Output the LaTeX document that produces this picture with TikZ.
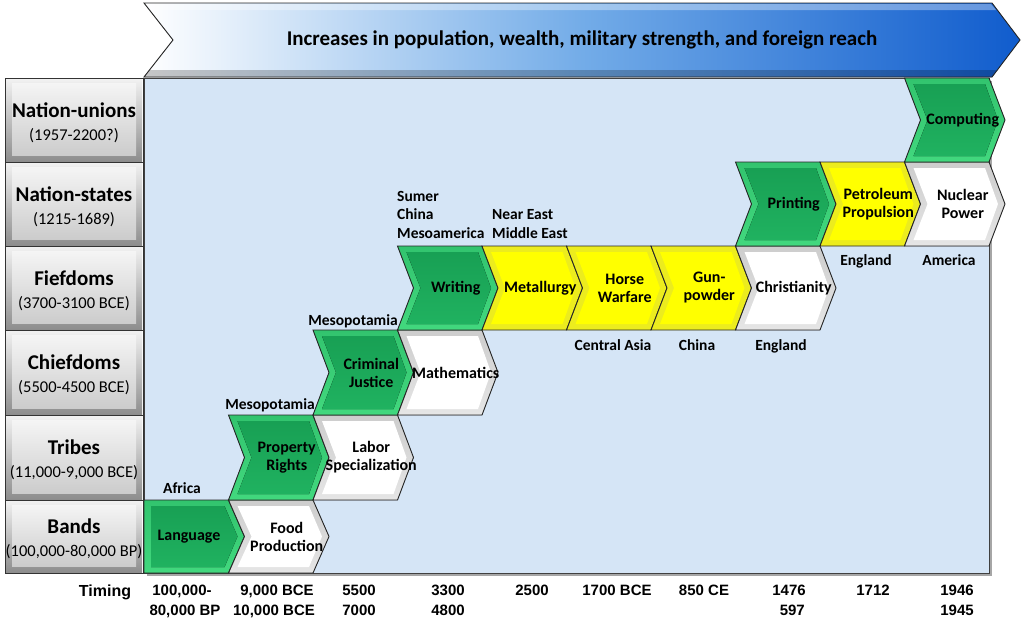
\documentclass[tikz,border=0pt]{standalone}
\usepackage{fontspec}
\setmainfont{Carlito}
\newfontfamily\arialf{Liberation Sans}
\definecolor{bgblue}{RGB}{213,229,246}
\definecolor{gface}{RGB}{24,160,84}
\definecolor{gfaceb}{RGB}{32,178,96}
\definecolor{gtop}{RGB}{50,196,110}
\definecolor{gbot}{RGB}{66,216,126}
\definecolor{yface}{RGB}{255,255,0}
\definecolor{ybev}{RGB}{236,236,30}
\definecolor{wbev}{RGB}{205,205,205}
\definecolor{bannerMid}{RGB}{115,172,232}
\definecolor{bannerR}{RGB}{16,92,205}
\tikzset{
  chevline/.style={draw=black!85, line width=0.9pt, line join=miter},
  greenbev/.style={top color=gtop, bottom color=gbot},
  greenface/.style={top color=gface, bottom color=gfaceb},
  yellowbev/.style={fill=ybev},
  yellowface/.style={fill=yface},
  whitebev/.style={top color=wbev, bottom color=white!90!black},
  whiteface/.style={fill=white},
  chevtext/.style={font=\fontsize{16}{18}\selectfont\bfseries, align=center, inner sep=0pt, text=black},
  loclab/.style={font=\fontsize{15.5}{18.5}\selectfont\bfseries, inner sep=0pt, text=black},
  tlab/.style={font=\arialf\fontsize{15}{18}\selectfont\bfseries, inner sep=0pt, anchor=base},
  rowtitle/.style={font=\fontsize{21}{23}\selectfont\bfseries, inner sep=0pt, anchor=base},
  rowsub/.style={font=\fontsize{16.5}{18}\selectfont, inner sep=0pt, anchor=base},
}
\def\W{84.5}
\def\D{16}
% #1 name, #2 x0, #3 yt, #4 yb, #5 bevel style, #6 face style, #7 text
\newcommand\Chev[7]{%
  \pgfmathsetmacro\xa{#2}%
  \pgfmathsetmacro\xb{#2+\W}%
  \pgfmathsetmacro\xt{#2+\W+\D}%
  \pgfmathsetmacro\xn{#2+\D}%
  \pgfmathsetmacro\ym{(#3+#4)/2}%
  \fill[#5] (\xa,#3) -- (\xb,#3) -- (\xt,\ym) -- (\xb,#4) -- (\xa,#4) -- (\xn,\ym) -- cycle;
  \fill[#6] (\xa+9,#3+6) -- (\xb-4,#3+6) -- (\xt-7,\ym) -- (\xb-4,#4-6) -- (\xa+9,#4-6) -- (\xn+7,\ym) -- cycle;
  \draw[chevline] (\xa,#3) -- (\xb,#3) -- (\xt,\ym) -- (\xb,#4) -- (\xa,#4) -- (\xn,\ym) -- cycle;
  \node[chevtext] (#1) at ({#2+\W/2+\D},\ym) {#7};
}
% #1 name, #2 yt, #3 yb, #4 title, #5 subtitle
\newcommand\RowLab[5]{%
  \pgfmathsetmacro\yc{(#2+#3)/2}%
  \fill[top color=white!95!black, bottom color=black!45] (6,#2) rectangle (142,#3);
  \fill[top color=white!96!black, bottom color=black!20] (12,#2+5) rectangle (136,#3-7);
  \draw[black!80, line width=0.9pt] (5,#2) rectangle (143,#3);
  \node[rowtitle] (#1) at (74,\yc-3) {#4};
  \node[rowsub] (#1s) at (74,\yc+20) {#5};
}
\begin{document}
\begin{tikzpicture}[x=1pt,y=-1pt]
\useasboundingbox (0,0) rectangle (1024,633);
\fill[white] (0,0) rectangle (1024,633);

% banner
\fill[left color=white, right color=bannerR, middle color=bannerMid]
  (144,3) -- (992,3) -- (1020,40) -- (992,77) -- (144,77) -- (173,40) -- cycle;
\fill[white, opacity=0.35] (148,4) -- (991,4) -- (996,10) -- (152,10) -- cycle;
\fill[black, opacity=0.22] (149.5,70) -- (997,70) -- (992,77) -- (144,77) -- cycle;
\draw[black!85, line width=0.9pt]
  (144,3) -- (992,3) -- (1020,40) -- (992,77) -- (144,77) -- (173,40) -- cycle;
\node[font=\fontsize{21}{23}\selectfont\bfseries, inner sep=0pt] (banner) at (582,40)
  {Increases in population, wealth, military strength, and foreign reach};

% panel
\fill[black!35] (147,81) rectangle (992,576);
\fill[bgblue] (144,78) rectangle (989,573);
\draw[black!75, line width=0.8pt] (144,78) rectangle (989,573);

% row labels
\RowLab{nu}{78}{162}{Nation-unions}{(1957-2200?)}
\RowLab{ns}{162}{246}{Nation-states}{(1215-1689)}
\RowLab{fd}{246}{330}{Fiefdoms}{(3700-3100 BCE)}
\RowLab{cd}{330}{415}{Chiefdoms}{(5500-4500 BCE)}
\RowLab{tr}{415}{500}{Tribes}{(11,000-9,000 BCE)}
\RowLab{bd}{500}{573}{Bands}{(100,000-80,000 BP)}

% row 6: Bands
\fill[greenbev] (144,500) -- (228.5,500) -- (244.5,536.5) -- (228.5,573) -- (144,573) -- cycle;
\fill[greenface] (151,506) -- (224.5,506) -- (237.5,536.5) -- (224.5,567) -- (151,567) -- cycle;
\draw[chevline] (144,500) -- (228.5,500) -- (244.5,536.5) -- (228.5,573) -- (144,573) -- cycle;
\node[chevtext] (language) at (189,536.5) {Language};
\Chev{food}{228.5}{500}{573}{whitebev}{whiteface}{Food\\Production}

% row 5: Tribes
\Chev{property}{228.5}{415}{500}{greenbev}{greenface}{Property\\Rights}
\Chev{labor}{313}{415}{500}{whitebev}{whiteface}{Labor\\Specialization}

% row 4: Chiefdoms
\Chev{criminal}{313}{330}{415}{greenbev}{greenface}{Criminal\\Justice}
\Chev{math}{397.5}{330}{415}{whitebev}{whiteface}{Mathematics}

% row 3: Fiefdoms
\Chev{writing}{397.5}{246}{330}{greenbev}{greenface}{Writing}
\Chev{metal}{482}{246}{330}{yellowbev}{yellowface}{Metallurgy}
\Chev{horse}{566.5}{246}{330}{yellowbev}{yellowface}{Horse\\Warfare}
\Chev{gun}{651}{246}{330}{yellowbev}{yellowface}{Gun-\\powder}
\Chev{christ}{735.5}{246}{330}{whitebev}{whiteface}{Christianity}

% row 2: Nation-states
\Chev{printing}{735.5}{162}{246}{greenbev}{greenface}{Printing}
\Chev{petrol}{820}{162}{246}{yellowbev}{yellowface}{Petroleum\\Propulsion}
\Chev{nuclear}{904.5}{162}{246}{whitebev}{whiteface}{Nuclear\\Power}

% row 1: Nation-unions
\Chev{computing}{904.5}{78}{162}{greenbev}{greenface}{Computing}

% location labels
\node[loclab, anchor=base] (africa) at (182,493) {Africa};
\node[loclab, anchor=base] (meso1) at (270,409) {Mesopotamia};
\node[loclab, anchor=base] (meso2) at (353,325) {Mesopotamia};
\node[loclab, anchor=base west, align=left] (sumer) at (397,238) {Sumer\\China\\Mesoamerica};
\node[loclab, anchor=base west, align=left] (neareast) at (492,238) {Near East\\Middle East};
\node[loclab, anchor=base] (casia) at (613,350.5) {Central Asia};
\node[loclab, anchor=base] (china) at (697,350.5) {China};
\node[loclab, anchor=base] (england1) at (781,350.5) {England};
\node[loclab, anchor=base] (england2) at (866,265) {England};
\node[loclab, anchor=base] (america) at (949,265) {America};

% timing row
\node[tlab, font=\arialf\fontsize{16}{18}\selectfont\bfseries] (timing) at (105,596) {Timing};
\node[tlab] (t1a) at (182,595) {100,000-};
\node[tlab] (t1b) at (185,615) {80,000 BP};
\node[tlab] (t2a) at (277,595) {9,000 BCE};
\node[tlab] (t2b) at (274,615) {10,000 BCE};
\node[tlab] (t3a) at (359,595) {5500};
\node[tlab] (t3b) at (359,615) {7000};
\node[tlab] (t4a) at (448,595) {3300};
\node[tlab] (t4b) at (448,615) {4800};
\node[tlab] (t5a) at (532,595) {2500};
\node[tlab] (t6a) at (617,595) {1700 BCE};
\node[tlab] (t7a) at (704,595) {850 CE};
\node[tlab] (t8a) at (789,595) {1476};
\node[tlab, anchor=base east] (t8b) at (805,615) {597};
\node[tlab] (t9a) at (873,595) {1712};
\node[tlab] (t10a) at (957,595) {1946};
\node[tlab] (t10b) at (957,615) {1945};
\end{tikzpicture}
\end{document}
